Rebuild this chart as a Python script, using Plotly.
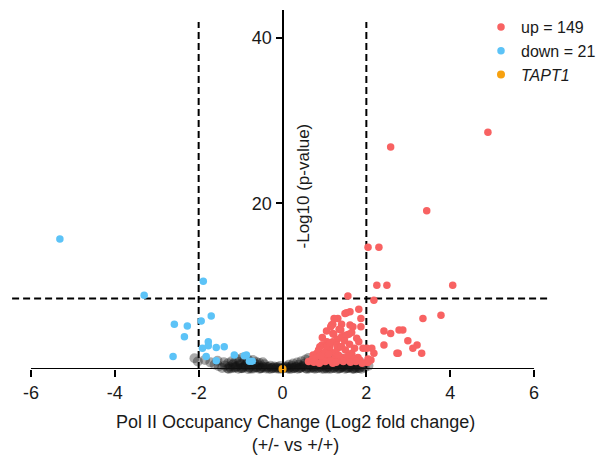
import plotly.graph_objects as go

# ---------------- data ----------------
up_x = [4.90, 2.58, 3.44, 2.04, 2.30, 4.06, 2.25, 2.49, 1.56, 2.18, 1.82, 1.61, 1.53, 1.49,
        1.87, 1.32, 1.23, 3.35, 3.78, 2.42, 2.58, 2.78, 2.87, 2.99, 3.21, 3.11, 2.42, 3.32,
        2.73, 2.76, 2.18, 2.01, 1.92, 2.04, 2.11, 2.13, 2.01, 2.04,
        1.20, 1.15, 1.17, 1.41, 1.39, 1.61, 1.68, 1.87, 1.22, 1.58, 1.31, 1.20, 1.49, 1.77,
        1.82, 1.06, 1.13, 0.96, 1.30, 1.39, 1.20, 1.41, 1.53, 0.94, 1.06, 1.13, 1.31, 0.73,
        0.82, 0.97, 1.06, 1.25, 1.41, 1.65, 1.80, 1.84, 0.70, 1.20, 0.89, 0.86, 1.13, 1.41,
        1.65, 0.78, 0.96, 1.37, 1.56, 1.00, 1.26, 1.50, 1.72, 1.60, 1.48, 0.90, 1.10, 1.33,
        1.55, 1.70, 0.62, 0.75, 0.88, 1.02, 1.15, 1.28, 1.45, 1.62, 1.75, 1.90, 1.05, 1.65,
        0.95, 1.35]
up_y = [28.6, 26.8, 19.1, 14.7, 14.7, 10.1, 10.1, 10.1, 8.8, 8.3, 7.2, 6.9, 6.8, 6.7,
        6.1, 6.1, 6.1, 6.1, 6.5, 4.6, 4.3, 4.7, 4.7, 3.4, 2.9, 2.5, 2.9, 1.9,
        1.9, 1.9, 1.9, 2.5, 2.5, 1.2, 1.1, 2.5, 0.8, 0.8,
        5.4, 5.1, 5.3, 5.4, 4.7, 5.3, 5.1, 5.1, 4.2, 4.2, 3.6, 3.3, 4.0, 3.7,
        3.3, 3.3, 2.8, 2.9, 2.9, 2.7, 4.3, 3.9, 4.1, 2.9, 2.7, 3.1, 2.5, 1.7,
        1.9, 1.4, 1.3, 1.4, 1.4, 1.7, 1.4, 1.1, 1.1, 0.7, 2.7, 2.3, 2.2, 2.7,
        1.9, 1.3, 1.1, 1.1, 1.1, 2.0, 2.0, 2.3, 2.5, 3.0, 3.4, 1.6, 1.8, 1.7,
        1.5, 1.2, 0.9, 0.8, 0.7, 0.9, 1.0, 0.8, 0.9, 0.8, 0.9, 0.7, 4.6, 4.4,
        3.8, 4.8]

down_x = [-5.31, -3.30, -1.89, -1.70, -1.94, -2.58, -2.27, -2.34, -1.77, -1.77, -1.91,
          -1.58, -1.39, -2.61, -1.82, -1.58, -1.15, -0.91, -0.86, -0.79, -0.72]
down_y = [15.7, 8.9, 10.6, 6.4, 5.8, 5.4, 5.2, 3.9, 3.3, 2.8, 2.5,
          2.6, 2.7, 1.5, 1.5, 1.0, 1.7, 1.6, 1.7, 0.95, 0.95]

gene_x = [0.0]
gene_y = [0.0]

ns_x = [-1.52, -1.44, -1.37, -1.31, -1.26, -1.19, -1.13, -1.08, -1.02, -0.97, -0.93, -0.88,
        -0.84, -0.79, -0.74, -0.71, -0.66, -0.61, -0.57, -0.52, -0.48, -0.43, -0.39, -0.34,
        -0.29, -0.25, -0.20, -0.15, -0.11, -0.06, -0.02,
        -1.21, -1.10, -1.03, -0.96, -0.90, -0.83, -0.77, -0.70, -0.62, -0.55, -0.47, -1.16,
        -0.99, -1.30, -1.40,
        -2.10, -2.02, -1.85, -1.72, -1.62, -1.55,
        0.03, 0.08, 0.13, 0.18, 0.23, 0.28, 0.33, 0.38, 0.42, 0.47, 0.52, 0.56, 0.61, 0.65,
        0.70, 0.74, 0.79, 0.83, 0.88, 0.92, 0.97, 1.01, 1.06, 1.10, 1.15, 1.19, 1.24, 1.28,
        1.33, 1.37, 1.42, 1.46, 1.51, 1.55, 1.60, 1.64, 1.69, 1.74, 1.79, 1.84, 1.90, 1.96,
        2.05,
        0.45, 0.55, 0.62, 0.72, 0.80, 0.90, 0.98, 1.05, 1.12, 1.20, 1.27, 1.35, 1.43, 1.50,
        1.58, 1.66, 1.75, 1.85, 0.35, 0.25, 0.15,
        -1.28, -1.17, -1.05, -0.94, -0.82, -0.68, -0.55, -0.45, -0.32, -0.22, -0.09, 0.05,
        0.16, 0.26, 0.36, 0.45, 0.58, 0.68, 0.77, 0.86, 0.95, 1.04, 1.13, 1.22, 1.31, 1.40,
        1.49, 1.58, 1.67, 1.77, 1.88,
        -1.23, -1.11, -0.99, -0.87, -0.76, -0.63, -0.51, -0.38, -0.27, -0.14, -0.04, 0.11,
        0.21, 0.31, 0.41, 0.51, 0.63, 0.73, 0.82, 0.91, 1.00, 1.08, 1.17, 1.26, 1.35, 1.44,
        1.53, 1.62, 1.72, 1.82]
ns_y = [0.35, 0.12, 0.41, 0.07, 0.28, 0.52, 0.15, 0.36, 0.61, 0.09, 0.27, 0.48,
        0.74, 0.18, 0.39, 0.05, 0.62, 0.22, 0.44, 0.11, 0.31, 0.57, 0.06, 0.24,
        0.40, 0.13, 0.29, 0.08, 0.21, 0.35, 0.10,
        0.95, 1.22, 0.88, 1.35, 1.05, 1.18, 0.92, 1.08, 0.85, 0.72, 0.81, 0.70,
        0.55, 0.68, 0.82,
        1.30, 0.90, 1.10, 0.80, 0.55, 1.00,
        0.12, 0.30, 0.06, 0.22, 0.41, 0.10, 0.27, 0.50, 0.15, 0.35, 0.62, 0.08, 0.25, 0.47,
        0.78, 0.13, 0.33, 0.55, 0.90, 0.20, 0.42, 0.68, 0.05, 0.29, 0.51, 0.82, 0.16, 0.38,
        0.60, 0.09, 0.27, 0.46, 0.72, 0.14, 0.33, 0.55, 0.07, 0.24, 0.42, 0.12, 0.30, 0.18,
        0.40,
        0.95, 1.15, 1.32, 1.10, 1.45, 1.25, 1.60, 1.05, 1.38, 1.70, 1.15, 1.42, 0.98, 1.25,
        0.90, 1.10, 0.75, 0.85, 0.78, 0.65, 0.50,
        0.02, 0.19, 0.03, 0.14, 0.01, 0.17, 0.03, 0.19, 0.02, 0.16, 0.04, 0.18,
        0.02, 0.15, 0.03, 0.20, 0.02, 0.17, 0.04, 0.16, 0.03, 0.19, 0.02, 0.15, 0.04, 0.18,
        0.03, 0.16, 0.02, 0.10, 0.03,
        0.08, 0.25, 0.11, 0.31, 0.06, 0.23, 0.09, 0.28, 0.05, 0.21, 0.07, 0.26,
        0.04, 0.22, 0.09, 0.30, 0.06, 0.27, 0.10, 0.33, 0.05, 0.24, 0.08, 0.35, 0.06, 0.29,
        0.09, 0.22, 0.05, 0.15]

x_ticks = [-6, -4, -2, 0, 2, 4, 6]
x_tick_text = ["-6", "-4", "-2", "0", "2", "4", "6"]
y_ticks = [20, 40]
fc_cut = 2
p_cut = 8.5

up_label = "up = 149"
down_label = "down = 21"
gene_label = "<i>TAPT1</i>"

# ---------------- figure ----------------
FONT = "Liberation Sans, Arial, sans-serif"
TXT = "#1a1a1a"

fig = go.Figure()
fig.add_trace(go.Scatter(x=ns_x, y=ns_y, mode="markers", showlegend=False,
                         marker=dict(size=10, color="rgba(20,20,20,0.36)", line=dict(width=0)),
                         cliponaxis=False, hoverinfo="skip"))
fig.add_trace(go.Scatter(x=up_x, y=up_y, mode="markers", name=up_label,
                         marker=dict(size=7.5, color="#F86262", line=dict(width=0)),
                         cliponaxis=False))
fig.add_trace(go.Scatter(x=down_x, y=down_y, mode="markers", name=down_label,
                         marker=dict(size=7.5, color="#5CC3F7", line=dict(width=0)),
                         cliponaxis=False))
fig.add_trace(go.Scatter(x=gene_x, y=gene_y, mode="markers", name=gene_label,
                         marker=dict(size=8, color="#F7A10F", line=dict(width=0)),
                         cliponaxis=False))

dash = "7px,4px"
for xv in (-fc_cut, fc_cut):
    fig.add_shape(type="line", x0=xv, x1=xv, y0=0, y1=41.9, xref="x", yref="y",
                  line=dict(color="black", width=2, dash=dash), layer="below")
fig.add_shape(type="line", x0=-6.45, x1=6.4, y0=p_cut, y1=p_cut, xref="x", yref="y",
              line=dict(color="black", width=2, dash=dash), layer="below")
# x axis baseline from -6 to 6
fig.add_shape(type="line", x0=x_ticks[0], x1=x_ticks[-1], y0=0, y1=0, xref="x", yref="y",
              line=dict(color="black", width=2), layer="below")

fig.add_annotation(text="-Log10 (p-value)", x=0, y=22.1, xref="x", yref="y",
                   textangle=-90, xshift=21, showarrow=False,
                   font=dict(family=FONT, size=17, color=TXT))
fig.add_annotation(text="Pol II Occupancy Change (Log2 fold change)<br>(+/- vs +/+)",
                   x=(295 - 10) / 545, y=-(433 - 369) / 359, xref="paper", yref="paper",
                   xanchor="center", yanchor="middle", showarrow=False,
                   font=dict(family=FONT, size=18, color=TXT))

fig.update_layout(
    width=597, height=457,
    margin=dict(l=10, r=42, t=10, b=88, autoexpand=False),
    paper_bgcolor="white", plot_bgcolor="white",
    font=dict(family=FONT, color=TXT),
    xaxis=dict(range=[-6.5, 6.5], tickvals=x_ticks, ticktext=x_tick_text, ticks="outside",
               ticklen=7, tickwidth=2, tickcolor="black", showline=False, showgrid=False,
               zeroline=False, tickfont=dict(size=18, family=FONT, color=TXT)),
    yaxis=dict(range=[0, 43.35], tickvals=y_ticks, ticks="outside", ticklen=6,
               tickwidth=2, tickcolor="black", showline=True, linewidth=2,
               linecolor="black", showgrid=False, zeroline=False, anchor="free",
               position=0.5, tickfont=dict(size=18, family=FONT, color=TXT)),
    legend=dict(x=(481 - 10) / 545, y=1.0, xanchor="left", yanchor="top",
                bgcolor="rgba(0,0,0,0)",
                font=dict(size=16, family=FONT, color=TXT), itemwidth=30,
                tracegroupgap=0),
    showlegend=True,
)

fig.write_html("out.html")
